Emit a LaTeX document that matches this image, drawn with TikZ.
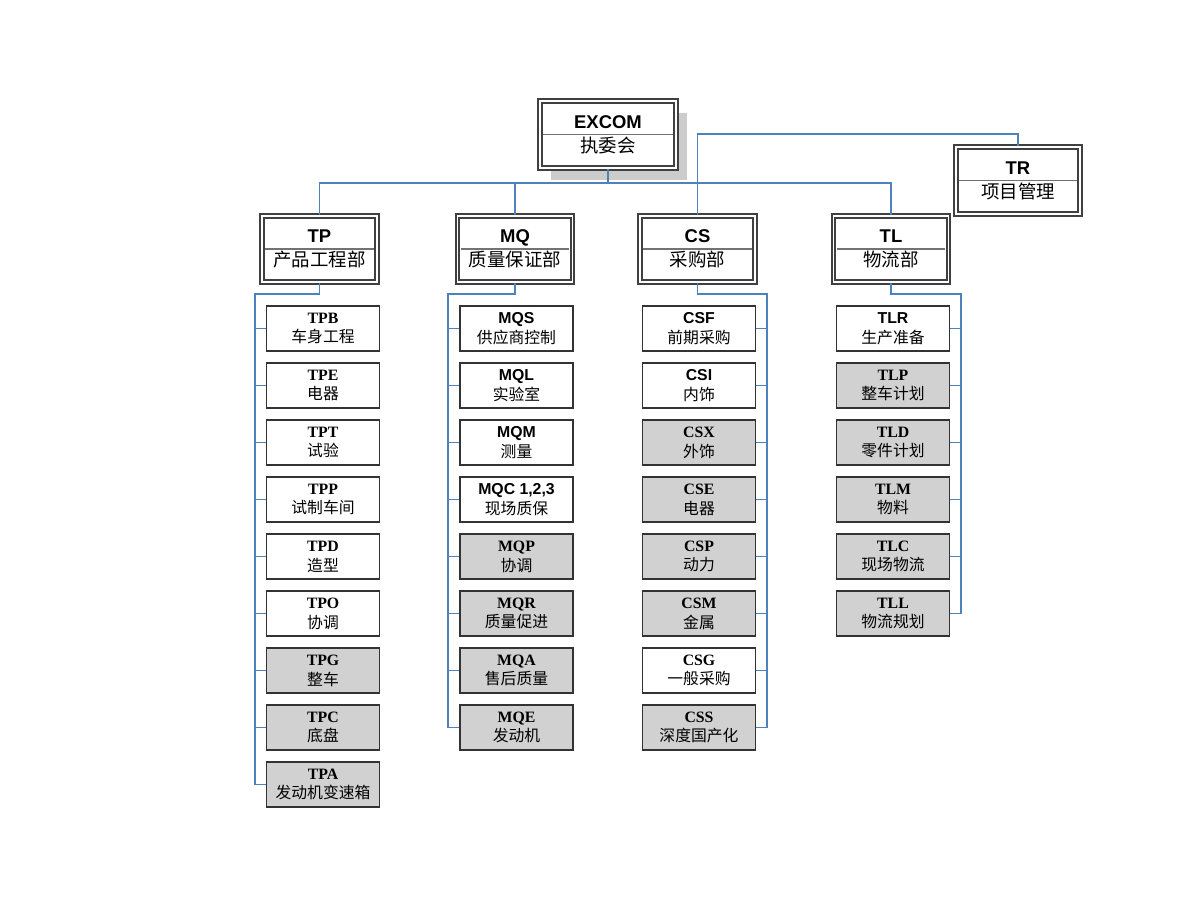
\documentclass[tikz,border=0pt]{standalone}
\usepackage{fontspec}
\setmainfont{Liberation Serif}
\setsansfont{Liberation Sans}
\newfontfamily\cjk{Noto Sans CJK SC}
\usepackage{tikz}
\usetikzlibrary{positioning, shadows}
\definecolor{wireblue}{RGB}{79,129,189}
\newcommand{\arl}{\sffamily\bfseries}
\newcommand{\tms}{\rmfamily\bfseries}
\tikzset{
  head/.style={draw=black!75, double=white, double distance=1.1pt, line width=0.9pt,
    fill=white, minimum width=2.3cm, minimum height=1.32cm, inner sep=0pt,
    align=center, font=\fontsize{10.5}{13.6}\selectfont},
  subbox/.style={draw=black!80, line width=0.8pt, fill=white, minimum width=2.26cm,
    minimum height=0.9cm, inner sep=0pt, align=center, font=\fontsize{9}{11.3}\selectfont},
  greybox/.style={subbox, fill=black!18},
  wire/.style={draw=wireblue, line width=0.9pt},
  divider/.style={draw=black!55, line width=0.6pt}
}

\begin{document}
\begin{tikzpicture}[x=0.02cm, y=-0.02cm, node distance=0.212cm]
\useasboundingbox (0,0) rectangle (1200,900);

% heads
\node[head, minimum width=2.72cm, minimum height=1.34cm,
  drop shadow={shadow xshift=0.22cm, shadow yshift=-0.24cm, fill=black!20, opacity=1}]
  (EXCOM) at (608,134.5) {{\arl EXCOM}\\{\cjk 执委会}};
\node[head, minimum width=2.48cm, minimum height=1.34cm] (TR) at (1018,180.5) {{\arl TR}\\{\cjk 项目管理}};
\node[head] (TP) at (319.5,249) {{\arl TP}\\{\cjk 产品工程部}};
\node[head] (MQ) at (515,249) {{\arl MQ}\\{\cjk 质量保证部}};
\node[head] (CS) at (697.5,249) {{\arl CS}\\{\cjk 采购部}};
\node[head] (TL) at (891,249) {{\arl TL}\\{\cjk 物流部}};

\foreach \n in {EXCOM,TR,TP,MQ,CS,TL}
  \draw[divider] ([xshift=0.08cm]\n.west) -- ([xshift=-0.08cm]\n.east);

% TP
\node[subbox] (TPB) at (323,328.5) {{\tms TPB}\\{\cjk 车身工程}};
\node[subbox, below=of TPB] (TPE) {{\tms TPE}\\{\cjk 电器}};
\node[subbox, below=of TPE] (TPT) {{\tms TPT}\\{\cjk 试验}};
\node[subbox, below=of TPT] (TPP) {{\tms TPP}\\{\cjk 试制车间}};
\node[subbox, below=of TPP] (TPD) {{\tms TPD}\\{\cjk 造型}};
\node[subbox, below=of TPD] (TPO) {{\tms TPO}\\{\cjk 协调}};
\node[greybox, below=of TPO] (TPG) {{\tms TPG}\\{\cjk 整车}};
\node[greybox, below=of TPG] (TPC) {{\tms TPC}\\{\cjk 底盘}};
\node[greybox, below=of TPC] (TPA) {{\tms TPA}\\{\cjk 发动机变速箱}};

% MQ
\node[subbox] (MQS) at (516.5,328.5) {{\arl MQS}\\{\cjk 供应商控制}};
\node[subbox, below=of MQS] (MQL) {{\arl MQL}\\{\cjk 实验室}};
\node[subbox, below=of MQL] (MQM) {{\arl MQM}\\{\cjk 测量}};
\node[subbox, below=of MQM] (MQC) {{\arl MQC 1,2,3}\\{\cjk 现场质保}};
\node[greybox, below=of MQC] (MQP) {{\tms MQP}\\{\cjk 协调}};
\node[greybox, below=of MQP] (MQR) {{\tms MQR}\\{\cjk 质量促进}};
\node[greybox, below=of MQR] (MQA) {{\tms MQA}\\{\cjk 售后质量}};
\node[greybox, below=of MQA] (MQE) {{\tms MQE}\\{\cjk 发动机}};

% CS
\node[subbox] (CSF) at (699,328.5) {{\arl CSF}\\{\cjk 前期采购}};
\node[subbox, below=of CSF] (CSI) {{\arl CSI}\\{\cjk 内饰}};
\node[greybox, below=of CSI] (CSX) {{\tms CSX}\\{\cjk 外饰}};
\node[greybox, below=of CSX] (CSE) {{\tms CSE}\\{\cjk 电器}};
\node[greybox, below=of CSE] (CSP) {{\tms CSP}\\{\cjk 动力}};
\node[greybox, below=of CSP] (CSM) {{\tms CSM}\\{\cjk 金属}};
\node[subbox, below=of CSM] (CSG) {{\tms CSG}\\{\cjk 一般采购}};
\node[greybox, below=of CSG] (CSS) {{\tms CSS}\\{\cjk 深度国产化}};

% TL
\node[subbox] (TLR) at (893,328.5) {{\arl TLR}\\{\cjk 生产准备}};
\node[greybox, below=of TLR] (TLP) {{\tms TLP}\\{\cjk 整车计划}};
\node[greybox, below=of TLP] (TLD) {{\tms TLD}\\{\cjk 零件计划}};
\node[greybox, below=of TLD] (TLM) {{\tms TLM}\\{\cjk 物料}};
\node[greybox, below=of TLM] (TLC) {{\tms TLC}\\{\cjk 现场物流}};
\node[greybox, below=of TLC] (TLL) {{\tms TLL}\\{\cjk 物流规划}};

% top connectors
\coordinate (bus) at (608,183);
\coordinate (trbend) at (697,134);
\draw[wire] (EXCOM.south) -- (bus);
\draw[wire] (TP.north) |- (bus);
\draw[wire] (TL.north) |- (bus);
\draw[wire] (MQ.north) -- (MQ.north |- bus);
\draw[wire] (CS.north) -- (CS.north |- trbend) -| (TR.north);

% column connectors
\coordinate (tpbus) at (255,294);
\coordinate (mqbus) at (448,294);
\coordinate (csbus) at (767,294);
\coordinate (tlbus) at (961,294);
\draw[wire] (TP.south) |- (tpbus) -- (tpbus |- TPA.west) -- (TPA.west);
\draw[wire] (MQ.south) |- (mqbus) -- (mqbus |- MQE.west) -- (MQE.west);
\draw[wire] (CS.south) |- (csbus) -- (csbus |- CSS.east) -- (CSS.east);
\draw[wire] (TL.south) |- (tlbus) -- (tlbus |- TLL.east) -- (TLL.east);
\foreach \n in {TPB,TPE,TPT,TPP,TPD,TPO,TPG,TPC}
  \draw[wire] (tpbus |- \n.west) -- (\n.west);
\foreach \n in {MQS,MQL,MQM,MQC,MQP,MQR,MQA}
  \draw[wire] (mqbus |- \n.west) -- (\n.west);
\foreach \n in {CSF,CSI,CSX,CSE,CSP,CSM,CSG}
  \draw[wire] (csbus |- \n.east) -- (\n.east);
\foreach \n in {TLR,TLP,TLD,TLM,TLC}
  \draw[wire] (tlbus |- \n.east) -- (\n.east);
\end{tikzpicture}
\end{document}
